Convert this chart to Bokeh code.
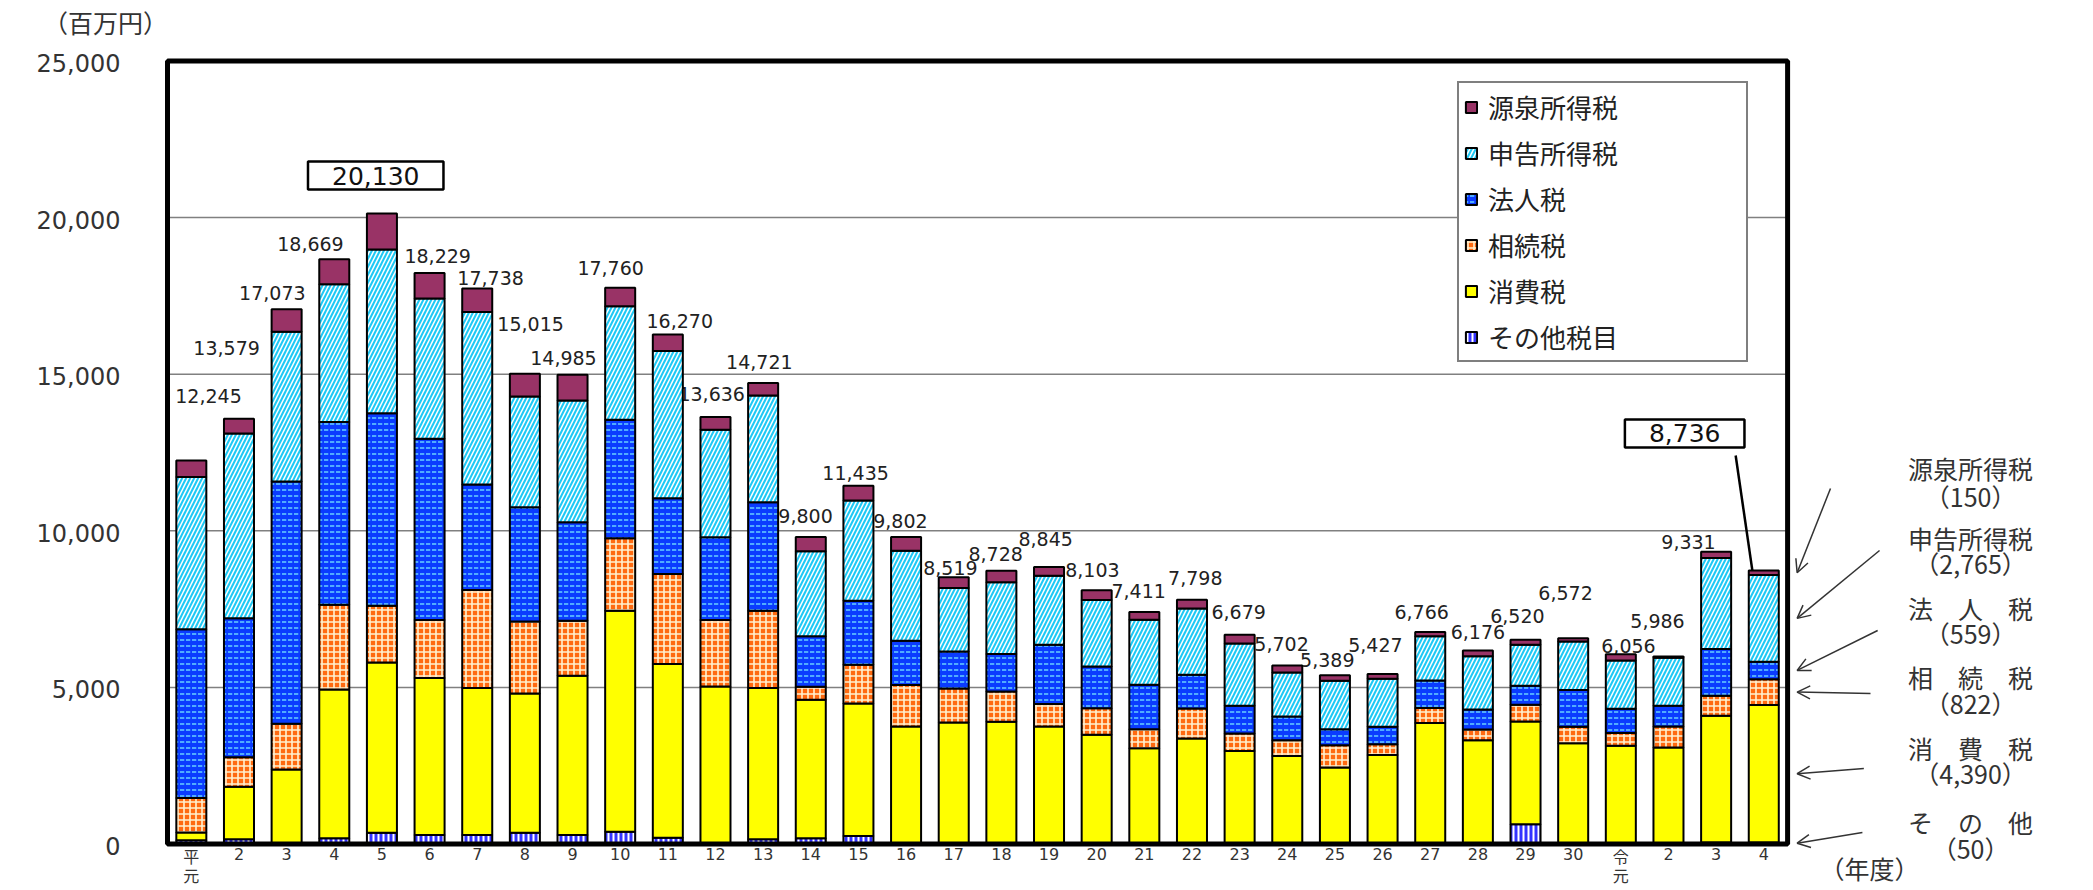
from bokeh.plotting import figure
from bokeh.models import (Range1d, Legend, LegendItem, Label, LabelSet, ColumnDataSource,
                          Arrow, OpenHead)
from bokeh.core.properties import value
from bokeh.embed import file_html
from bokeh.resources import INLINE

# ---------------- data (百万円) ----------------
CATEGORIES = ["平\n元", "2", "3", "4", "5", "6", "7", "8", "9", "10",
              "11", "12", "13", "14", "15", "16", "17", "18", "19", "20",
              "21", "22", "23", "24", "25", "26", "27", "28", "29", "30",
              "令\n元", "2", "3", "4"]
OTHER = [120, 150, 20, 180, 362, 288, 288, 362, 288, 394, 202, 10, 150, 180, 256, 20, 20,
         20, 20, 20, 20, 20, 20, 20, 20, 20, 20, 20, 629, 20, 20, 20, 50, 50]
CONSUMPTION = [250, 1680, 2361, 4750, 5435, 5009, 4689, 4444, 5083, 7055, 5543, 5020, 4827,
               4424, 4229, 3731, 3858, 3880, 3731, 3465, 3039, 3347, 2953, 2793, 2419, 2825,
               3844, 3291, 3281, 3199, 3119, 3060, 4042, 4390]
INHERITANCE = [1100, 936, 1455, 2710, 1812, 1854, 3133, 2301, 1758, 2312, 2877, 2121, 2472,
               415, 1238, 1322, 1088, 969, 715, 853, 607, 959, 554, 502, 716, 342, 480, 341,
               534, 522, 404, 671, 639, 822]
CORPORATE = [5390, 4443, 7739, 5830, 6148, 5787, 3367, 3645, 3143, 3784, 2418, 2642, 3463,
             1615, 2046, 1417, 1182, 1194, 1896, 1331, 1417, 1077, 885, 755, 511, 554, 875,
             640, 607, 1172, 779, 661, 1493, 559]
SELF_ASSESSED = [4855, 5900, 4783, 4399, 5223, 4476, 5509, 3538, 3890, 3623, 4700, 3432, 3409,
                 2711, 3196, 2877, 2026, 2292, 2206, 2122, 2078, 2120, 1992, 1407, 1543, 1536,
                 1417, 1704, 1309, 1555, 1534, 1534, 2907, 2765]
WITHHOLDING = [530, 470, 715, 800, 1150, 815, 752, 725, 823, 592, 530, 411, 400, 455, 470, 435,
               345, 373, 277, 312, 250, 275, 275, 225, 180, 150, 130, 180, 160, 104, 200, 40,
               200, 150]
TOTALS = [12245, 13579, 17073, 18669, 20130, 18229, 17738, 15015, 14985, 17760, 16270, 13636,
          14721, 9800, 11435, 9802, 8519, 8728, 8845, 8103, 7411, 7798, 6679, 5702, 5389, 5427,
          6766, 6176, 6520, 6572, 6056, 5986, 9331, 8736]
SERIES_NAMES = ["その他税目", "消費税", "相続税", "法人税", "申告所得税", "源泉所得税"]
NOTE_NAMES = ["源泉所得税", "申告所得税", "法　人　税", "相　続　税", "消　費　税", "そ　の　他"]
Y_TICKS = [0, 5000, 10000, 15000, 20000, 25000]
Y_UNIT = "（百万円）"
X_UNIT = "（年度）"

# ---------------- layout / style ----------------
W, H = 2093, 890          # canvas; the plot frame covers all of it
PAGE_OFF = 0              # the page template has no body margin
PX_X = 47.65              # px per category
PX_Y = 783.0 / 25000      # px per 百万円
BOX_LEFT_PAGE = 167       # page x of the chart box's left edge
ZERO_PAGE = 843.5         # page y of the zero line
N = len(CATEGORIES)
Y_MAX = Y_TICKS[-1]
x0 = -0.5 - (BOX_LEFT_PAGE - PAGE_OFF) / PX_X
x1 = x0 + W / PX_X
y1 = (ZERO_PAGE - PAGE_OFF) / PX_Y
y0 = (ZERO_PAGE - PAGE_OFF - H) / PX_Y

LABEL_DX = [0.36, -0.26, -0.30, -0.50, -0.13, 0.17, 0.28, 0.12, -0.19, -0.20, 0.25, -0.08,
            -0.08, -0.11, -0.06, -0.12, -0.07, -0.12, -0.07, -0.09, -0.12, 0.07, -0.02, -0.12,
            -0.16, -0.15, -0.18, 0.00, -0.17, -0.16, 0.16, -0.23, -0.58, -1.66]
LABEL_DY = [2055, 2260, 520, 488, 1214, 545, 334, 1588, 532, 631, 429, 732, 669, 673, 411, 511,
            293, 531, 893, 645, 667, 695, 728, 684, 486, 927, 641, 593, 760, 1458, 266, 1134,
            327, 4371]
NOTE_X = 37.34
NOTE_NAME_Y = [12021, 9786, 7551, 5348, 3081, 718]
NOTE_VAL_Y = [11127, 8956, 6721, 4486, 2251, -112]
ARROW_START = [(34.40, 11350), (35.43, 9371), (35.39, 6817), (35.24, 4805), (35.10, 2411), (35.07, 367)]

FILL = ["#3333FF", "#FFFF00", "#FF6A10", "#0A3CFF", "#1FC9F5", "#993366"]
HATCH = ["|", " ", "+", '"', "/", " "]
HATCH_COLOR = ["white", "white", "#FFF2D0", "#66D0FF", "white", "white"]
HATCH_SCALE = [5, 6, 6, 6, 8, 6]
HATCH_WEIGHT = [2, 1, 1.6, 1.5, 1.5, 1]

NUM_FONT = "DejaVu Sans"
JP_FONT = "Noto Sans CJK JP"
TXT = "#333333"

p = figure(width=W, height=H, x_range=Range1d(x0, x1), y_range=Range1d(y0, y1),
           output_backend="svg", toolbar_location=None,
           x_axis_location=None, y_axis_location=None,
           min_border_left=0, min_border_right=0, min_border_top=0, min_border_bottom=0,
           background_fill_color="white", border_fill_color="white",
           outline_line_color=None)
p.grid.visible = False

# tick labels (positioned through the data scales)
p.text(x=[-0.5] * len(Y_TICKS), y=Y_TICKS, text=[f"{t:,}" for t in Y_TICKS],
       x_offset=-47, y_offset=2, text_align="right", text_baseline="middle",
       text_font=value(NUM_FONT), text_font_size="24px", text_color=TXT)
p.text(x=list(range(N)), y=[0] * N, text=CATEGORIES, y_offset=4,
       text_align="center", text_baseline="top", text_line_height=1.0,
       text_font=value(f"{NUM_FONT}, {JP_FONT}"), text_font_size="16px", text_color=TXT)

# gridlines inside the chart box only
grid_y = Y_TICKS[1:-1]
p.segment(x0=[-0.5] * len(grid_y), x1=[N - 0.5] * len(grid_y), y0=grid_y, y1=grid_y,
          line_color="#808080", line_width=1.5)

# total labels (drawn beneath the bars, as in the original)
boxed = {TOTALS.index(max(TOTALS)), N - 1}
idx = [i for i in range(N) if i not in boxed]
lab_src = ColumnDataSource(dict(
    x=[i + LABEL_DX[i] for i in idx],
    y=[TOTALS[i] + LABEL_DY[i] for i in idx],
    t=[f"{TOTALS[i]:,}" for i in idx]))
p.text(x="x", y="y", text="t", source=lab_src, text_align="center", text_baseline="middle",
       text_font=value(NUM_FONT), text_font_size="19px", text_color="#222222")

# stacked bars
src = ColumnDataSource(dict(x=list(range(N)), other=OTHER, cons=CONSUMPTION, inh=INHERITANCE,
                            corp=CORPORATE, selfa=SELF_ASSESSED, wh=WITHHOLDING))
keys = ["other", "cons", "inh", "corp", "selfa", "wh"]
rs = p.vbar_stack(keys, x="x", width=0.63, source=src, fill_color=FILL,
                  line_color="black", line_width=2,
                  hatch_pattern=HATCH, hatch_color=HATCH_COLOR,
                  hatch_scale=HATCH_SCALE, hatch_weight=HATCH_WEIGHT)

# chart box border
p.quad(left=[-0.5], right=[N - 0.5], bottom=[0], top=[Y_MAX], fill_color=None,
       line_color="black", line_width=5)

# boxed labels
for i in sorted(boxed):
    p.add_layout(Label(x=i + LABEL_DX[i], y=TOTALS[i] + LABEL_DY[i], text=f"{TOTALS[i]:,}",
                       text_font=NUM_FONT, text_font_size="25px", text_color="#111111",
                       text_align="center", text_baseline="middle",
                       border_line_color="black", border_line_width=2.5,
                       background_fill_color="white",
                       padding=dict(left=24, right=24, top=5, bottom=5)))
last = N - 1
p.segment(x0=[last + LABEL_DX[last] + 1.07], y0=[TOTALS[last] + LABEL_DY[last] - 703],
          x1=[last - 0.24], y1=[TOTALS[last]], line_color="black", line_width=2.5)

# legend
items = [LegendItem(label=SERIES_NAMES[k], renderers=[rs[k]]) for k in range(5, -1, -1)]
legend = Legend(items=items, location=(1457, H - 362),
                label_text_font=JP_FONT, label_text_font_size="26px",
                label_text_color="#222222",
                glyph_width=14, glyph_height=14, label_height=30, label_width=253,
                label_standoff=10, spacing=9, padding=5, margin=0,
                border_line_color="black", border_line_width=2,
                background_fill_color="white", background_fill_alpha=1.0)
p.add_layout(legend)

# notes for the latest year (right side)
last_vals = [WITHHOLDING[-1], SELF_ASSESSED[-1], CORPORATE[-1], INHERITANCE[-1],
             CONSUMPTION[-1], OTHER[-1]]
stack_series = [OTHER, CONSUMPTION, INHERITANCE, CORPORATE, SELF_ASSESSED, WITHHOLDING]
mids, acc = [], 0
for s in stack_series:
    mids.append(acc + s[-1] / 2)
    acc += s[-1]
mids = mids[::-1]  # 源泉 ... その他

note_src = ColumnDataSource(dict(
    x=[NOTE_X] * 12,
    y=NOTE_NAME_Y + NOTE_VAL_Y,
    t=NOTE_NAMES + [f"（{v:,}）" for v in last_vals]))
p.add_layout(LabelSet(x="x", y="y", text="t", source=note_src, text_align="center",
                      text_baseline="middle", text_font=value(JP_FONT),
                      text_font_size=value("25px"), text_color=TXT))
for (sx, sy), ey in zip(ARROW_START, mids):
    p.add_layout(Arrow(end=OpenHead(size=13, line_color=TXT, line_width=1.5),
                       x_start=sx, y_start=sy, x_end=N - 0.5 + 0.2, y_end=ey,
                       line_color=TXT, line_width=1.5))

p.add_layout(Label(x=-1.80, y=26261, text=Y_UNIT, text_font=JP_FONT, text_font_size="25px",
                   text_color=TXT, text_align="center", text_baseline="middle"))
p.add_layout(Label(x=35.22, y=-781, text=X_UNIT, text_font=JP_FONT, text_font_size="25px",
                   text_color=TXT, text_align="center", text_baseline="middle"))

open("out.html", "w").write(file_html(p, INLINE))
